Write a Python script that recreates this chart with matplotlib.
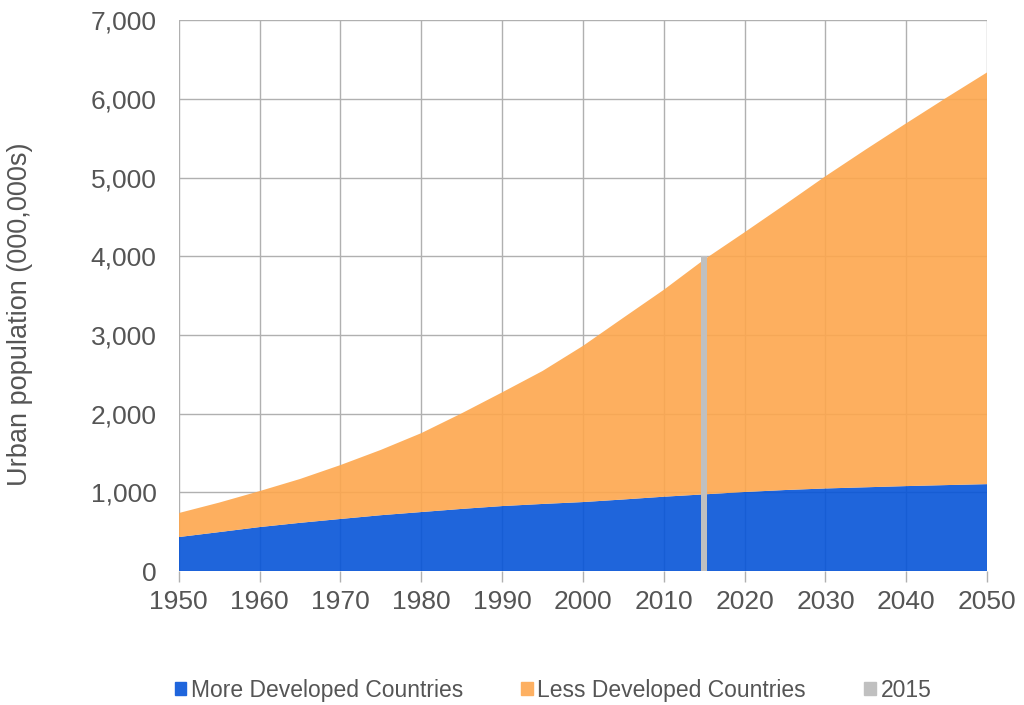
import matplotlib
matplotlib.use('Agg')
import matplotlib.pyplot as plt
import matplotlib.patches as mpatches

plt.rcParams.update({"font.family": ["Liberation Sans", "DejaVu Sans"]})
C_TXT = "#555555"; C_GRID = "#b0b0b0"

# urban population, millions
years = [1950, 1955, 1960, 1965, 1970, 1975, 1980, 1985, 1990, 1995, 2000,
         2005, 2010, 2015, 2020, 2025, 2030, 2035, 2040, 2045, 2050]
more_dev = [432, 495, 559, 613, 662, 710, 750, 790, 826, 853, 877,
            910, 945, 975, 1005, 1030, 1050, 1065, 1080, 1093, 1105]
less_dev = [305, 375, 457, 557, 685, 830, 1003, 1215, 1445, 1690, 1985,
            2310, 2630, 2985, 3302, 3630, 3969, 4295, 4613, 4927, 5235]
mark_year = [2015]
mark_val = [4000]

fig = plt.figure(figsize=(10.24, 7.05), dpi=100)
ax = fig.add_axes([0.1745, 0.190, 0.7895, 0.781])

ax.stackplot(years, more_dev, less_dev, colors=["#0654d8", "#fda74d"],
             alpha=0.9, zorder=2, linewidth=0)
ax.bar(mark_year, mark_val, width=0.75, color="#c0c0c0", zorder=3)

ax.set_xlim(1950, 2050); ax.set_ylim(0, 7000)
ax.set_xticks(range(1950, 2051, 10))
ax.set_yticks(range(0, 7001, 1000))
ax.set_yticklabels([f"{v:,}" for v in range(0, 7001, 1000)])
ax.grid(True, color=C_GRID, linewidth=1, zorder=1)
ax.set_axisbelow(True)
for s in ax.spines.values():
    s.set_visible(False)
ax.tick_params(axis="y", length=0, pad=16, labelsize=19, labelcolor=C_TXT)
ax.tick_params(axis="x", length=8, width=1, color=C_GRID, pad=6, labelsize=19, labelcolor=C_TXT)

fig.text(20 / 1024, 1 - 314 / 705, "Urban population (000,000s)", rotation=90,
         ha="center", va="center", fontsize=19.5, color=C_TXT)

handles = [mpatches.Patch(color="#1f65dc", label="More Developed Countries"),
           mpatches.Patch(color="#fdb062", label="Less Developed Countries"),
           mpatches.Patch(color="#c0c0c0", label="2015")]
leg = fig.legend(handles=handles, loc="center", bbox_to_anchor=(0.540, 0.021), ncol=3,
                 frameon=False, fontsize=16.5, handlelength=0.5, handleheight=0.5,
                 handletextpad=0.2, columnspacing=2.55)
for t in leg.get_texts():
    t.set_color(C_TXT)

fig.savefig("out.png", dpi=100)
